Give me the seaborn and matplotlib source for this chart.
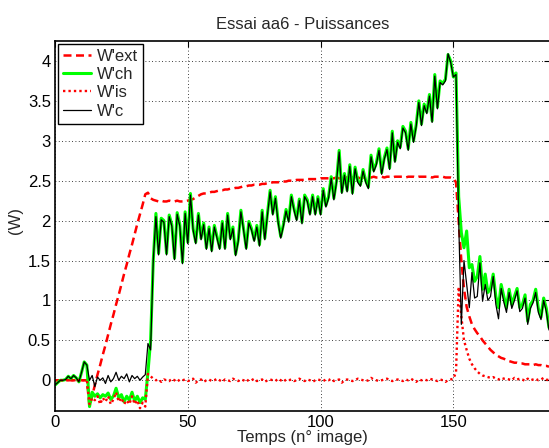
import numpy as np
import pandas as pd
import matplotlib
matplotlib.use("Agg")
import matplotlib.pyplot as plt
import seaborn as sns

# numéro d'image 0..186
frames = list(range(187))

w_ext = [
    0.00, 0.00, 0.00, 0.00, 0.00, 0.00, 0.00, 0.00, 0.00, 0.00,
    0.00, 0.00, 0.00, -0.33, -0.20, -0.06, 0.07, 0.19, 0.32, 0.44,
    0.57, 0.70, 0.82, 0.95, 1.07, 1.20, 1.33, 1.45, 1.58, 1.70,
    1.83, 1.96, 2.08, 2.20, 2.33, 2.35, 2.28, 2.26, 2.25, 2.24,
    2.25, 2.24, 2.24, 2.25, 2.24, 2.24, 2.25, 2.24, 2.24, 2.24,
    2.25, 2.26, 2.27, 2.29, 2.31, 2.33, 2.34, 2.34, 2.35, 2.36,
    2.36, 2.37, 2.38, 2.38, 2.39, 2.39, 2.40, 2.40, 2.41, 2.41,
    2.42, 2.43, 2.43, 2.44, 2.44, 2.45, 2.45, 2.45, 2.46, 2.46,
    2.47, 2.47, 2.48, 2.48, 2.48, 2.49, 2.49, 2.49, 2.50, 2.50,
    2.50, 2.51, 2.51, 2.51, 2.51, 2.52, 2.52, 2.52, 2.52, 2.52,
    2.53, 2.53, 2.53, 2.53, 2.53, 2.53, 2.54, 2.53, 2.53, 2.54,
    2.54, 2.53, 2.54, 2.54, 2.54, 2.53, 2.54, 2.54, 2.54, 2.54,
    2.55, 2.54, 2.54, 2.55, 2.54, 2.55, 2.55, 2.54, 2.55, 2.55,
    2.55, 2.55, 2.54, 2.55, 2.55, 2.55, 2.54, 2.55, 2.55, 2.55,
    2.55, 2.55, 2.54, 2.55, 2.55, 2.55, 2.55, 2.54, 2.54, 2.54,
    2.53, 2.48, 2.00, 1.50, 1.15, 0.92, 0.80, 0.70, 0.64, 0.59,
    0.55, 0.50, 0.46, 0.42, 0.38, 0.35, 0.32, 0.30, 0.28, 0.27,
    0.25, 0.24, 0.23, 0.22, 0.22, 0.21, 0.21, 0.20, 0.20, 0.20,
    0.19, 0.20, 0.19, 0.19, 0.18, 0.18, 0.17,
]

w_ch = [
    -0.06, -0.03, 0.00, 0.00, 0.01, 0.05, 0.02, 0.06, 0.03, -0.02,
    0.10, 0.23, 0.19, -0.33, -0.15, -0.20, -0.17, -0.22, -0.18, -0.20,
    -0.16, -0.24, -0.20, -0.10, -0.22, -0.18, -0.27, -0.20, -0.25, -0.15,
    -0.26, -0.20, -0.28, -0.22, -0.24, 0.10, 0.50, 1.50, 2.09, 1.59,
    2.03, 2.00, 1.59, 2.07, 1.95, 1.53, 2.10, 1.95, 1.48, 2.11,
    1.73, 2.34, 1.90, 1.73, 2.09, 1.78, 1.97, 1.66, 1.92, 1.63,
    1.94, 1.80, 1.66, 1.99, 1.66, 2.09, 1.78, 1.92, 1.58, 1.76,
    2.13, 1.90, 1.66, 1.99, 1.90, 1.76, 1.94, 1.70, 2.13, 1.78,
    2.09, 2.38, 2.09, 2.30, 2.00, 1.80, 1.95, 2.14, 2.00, 2.32,
    2.15, 2.02, 2.27, 1.98, 2.32, 2.26, 2.09, 2.32, 2.09, 2.30,
    2.09, 2.40, 2.19, 2.30, 2.55, 2.28, 2.50, 2.88, 2.36, 2.59,
    2.38, 2.70, 2.35, 2.67, 2.50, 2.45, 2.64, 2.50, 2.42, 2.82,
    2.63, 2.72, 2.90, 2.60, 2.79, 2.91, 2.66, 3.12, 2.75, 3.00,
    2.92, 3.18, 3.12, 2.90, 3.23, 3.00, 3.20, 3.50, 3.21, 3.46,
    3.36, 3.58, 3.25, 3.83, 3.42, 3.75, 3.72, 3.77, 4.08, 4.00,
    3.80, 3.85, 2.30, 1.85, 1.66, 1.87, 1.41, 1.45, 1.24, 1.30,
    1.55, 1.14, 1.33, 1.10, 1.15, 1.33, 1.05, 0.91, 1.20, 1.05,
    0.91, 1.14, 0.95, 1.05, 1.15, 0.91, 0.95, 1.07, 0.74, 0.95,
    1.00, 1.14, 0.90, 0.79, 1.03, 0.90, 0.66,
]

w_is = [
    0.00, 0.00, 0.00, 0.00, 0.00, 0.00, 0.00, 0.00, 0.00, 0.00,
    0.00, 0.00, 0.00, -0.30, -0.22, -0.25, -0.20, -0.30, -0.22, -0.27,
    -0.20, -0.30, -0.24, -0.15, -0.27, -0.22, -0.30, -0.25, -0.30, -0.20,
    -0.30, -0.25, -0.35, -0.28, -0.33, 0.08, 0.05, 0.02, 0.00, 0.01,
    -0.02, 0.01, 0.00, -0.01, 0.02, 0.00, -0.02, 0.01, 0.00, 0.01,
    -0.01, 0.00, 0.02, -0.03, 0.00, 0.01, -0.02, 0.00, 0.01, -0.01,
    0.00, 0.02, 0.00, -0.02, 0.01, 0.00, -0.01, 0.02, 0.00, -0.01,
    0.01, 0.00, -0.02, 0.01, 0.00, 0.02, -0.01, 0.00, 0.01, -0.02,
    0.00, 0.01, 0.00, -0.01, 0.02, 0.00, -0.02, 0.01, 0.00, 0.01,
    -0.01, 0.00, 0.02, 0.00, -0.01, 0.01, 0.00, -0.02, 0.00, 0.01,
    0.00, -0.01, 0.01, 0.00, 0.02, -0.01, 0.00, 0.01, -0.03, 0.00,
    0.01, 0.00, -0.01, 0.00, 0.02, 0.01, 0.00, -0.01, 0.00, 0.03,
    0.01, 0.00, -0.01, 0.00, 0.01, 0.02, 0.00, -0.01, 0.00, 0.01,
    0.00, -0.01, 0.01, 0.00, 0.02, 0.00, -0.02, 0.01, 0.00, 0.01,
    0.00, 0.02, 0.01, 0.00, -0.01, 0.01, 0.00, -0.02, 0.00, 0.01,
    0.02, 0.10, 1.17, 0.80, 0.50, 0.38, 0.27, 0.20, 0.15, 0.11,
    0.08, 0.06, 0.05, 0.04, 0.03, 0.04, 0.02, 0.01, 0.03, 0.02,
    0.02, 0.01, 0.00, 0.03, 0.01, 0.02, 0.01, -0.01, 0.02, 0.00,
    0.01, 0.02, 0.00, 0.01, 0.03, 0.01, 0.00,
]

w_c = [
    -0.06, -0.03, 0.00, 0.00, 0.01, 0.05, 0.02, 0.06, 0.03, -0.02,
    0.10, 0.23, 0.19, 0.00, 0.06, -0.08, 0.04, 0.00, 0.03, -0.04,
    0.06, -0.02, 0.02, 0.10, 0.00, 0.05, 0.02, 0.08, -0.02, 0.06,
    0.02, 0.05, 0.00, 0.04, 0.07, 0.46, 0.38, 1.50, 2.05, 1.57,
    2.01, 1.98, 1.57, 2.05, 1.93, 1.51, 2.08, 1.93, 1.46, 2.09,
    1.71, 2.32, 1.88, 1.71, 2.07, 1.76, 1.95, 1.64, 1.90, 1.61,
    1.92, 1.78, 1.64, 1.97, 1.64, 2.07, 1.76, 1.90, 1.56, 1.74,
    2.11, 1.88, 1.64, 1.97, 1.88, 1.74, 1.92, 1.68, 2.11, 1.76,
    2.07, 2.36, 2.07, 2.28, 1.98, 1.78, 1.93, 2.12, 1.98, 2.30,
    2.13, 2.00, 2.25, 1.96, 2.30, 2.24, 2.07, 2.30, 2.07, 2.28,
    2.07, 2.38, 2.17, 2.28, 2.53, 2.26, 2.48, 2.86, 2.34, 2.57,
    2.36, 2.68, 2.33, 2.65, 2.48, 2.43, 2.62, 2.48, 2.40, 2.80,
    2.61, 2.70, 2.88, 2.58, 2.77, 2.89, 2.64, 3.10, 2.73, 2.98,
    2.90, 3.16, 3.10, 2.88, 3.21, 2.98, 3.18, 3.48, 3.19, 3.44,
    3.34, 3.56, 3.23, 3.81, 3.40, 3.73, 3.70, 3.75, 4.09, 3.98,
    3.80, 3.83, 2.00, 0.70, 1.50, 1.20, 0.91, 1.35, 1.03, 1.05,
    1.47, 0.99, 1.20, 1.00, 1.05, 1.30, 0.95, 0.77, 1.15, 0.98,
    0.85, 1.10, 0.90, 1.00, 1.12, 0.86, 0.90, 1.03, 0.70, 0.90,
    0.97, 1.10, 0.85, 0.76, 1.00, 0.86, 0.63,
]

labels = ["W'ext", "W'ch", "W'is", "W'c"]
colors = ["#ff0000", "#00ff00", "#ff0000", "#000000"]
styles = [(0, (3.2, 1.8)), "-", (0, (1, 1.3)), "-"]
widths = [1.8, 2.2, 1.7, 0.9]

df = pd.DataFrame({"frame": frames, "W'ext": w_ext, "W'ch": w_ch,
                   "W'is": w_is, "W'c": w_c})

sns.set_style("white")
plt.rcParams["font.family"] = ["Liberation Sans", "DejaVu Sans"]

fig = plt.figure(figsize=(5.49, 4.48), dpi=100)
ax = fig.add_axes([55 / 549, 37 / 448, 494.5 / 549, 370 / 448])

for lab, c, ls, lw in zip(labels, colors, styles, widths):
    sns.lineplot(data=df, x="frame", y=lab, ax=ax, color=c, linestyle=ls,
                 linewidth=lw, label=lab)

ax.set_xlim(0, 186.2)
ax.set_ylim(-0.385, 4.25)
ax.set_xticks([0, 50, 100, 150])
ax.set_yticks(np.arange(0, 4.01, 0.5))
ax.set_yticklabels(["0", "0.5", "1", "1.5", "2", "2.5", "3", "3.5", "4"])
ax.grid(True, color="black", linestyle=(0, (1, 3)), linewidth=0.6)
ax.tick_params(direction="in", top=True, right=True, length=4,
               labelsize=12, colors="black", pad=3)
for s in ax.spines.values():
    s.set_color("black")
    s.set_linewidth(1.2)

ax.set_title("Essai aa6 - Puissances", fontsize=12, pad=9)
ax.set_xlabel("Temps (n° image)", fontsize=12, labelpad=0)
ax.set_ylabel("(W)", fontsize=12)
ax.yaxis.set_label_coords(-0.065, 0.514)

leg = ax.legend(loc="upper left", fontsize=12, frameon=True, fancybox=False,
                framealpha=1, edgecolor="black", borderaxespad=0.15,
                handlelength=1.7, handletextpad=0.35, labelspacing=0.2,
                borderpad=0.3)
leg.get_frame().set_linewidth(1.0)

fig.savefig("out.png", dpi=100)
